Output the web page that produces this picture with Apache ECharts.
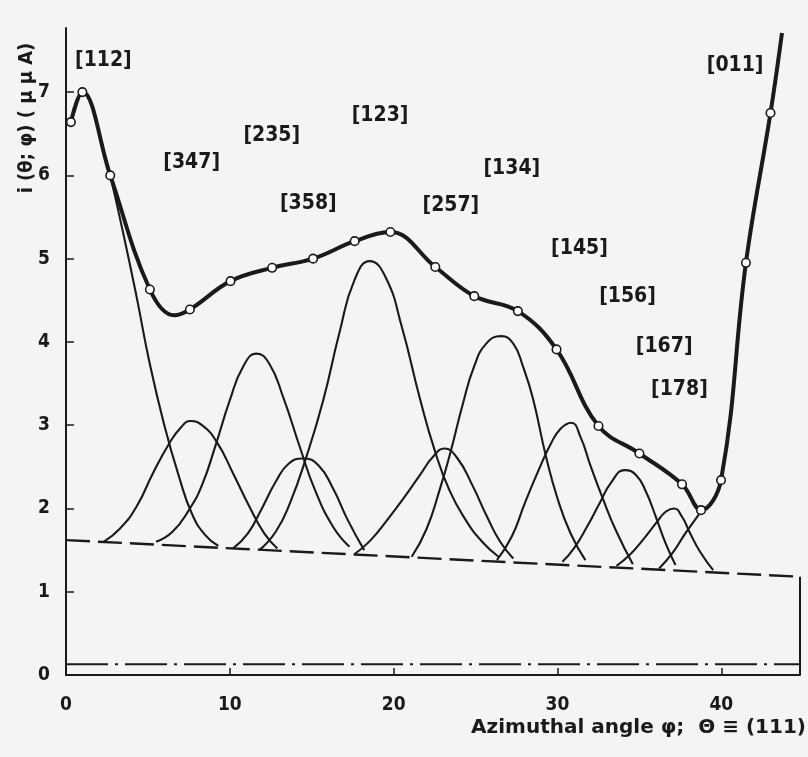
<!DOCTYPE html>
<html>
<head>
<meta charset="utf-8">
<script src="https://cdn.jsdelivr.net/npm/echarts@6/dist/echarts.min.js"></script>
<style>
html,body{margin:0;padding:0;background:#f4f4f2;}
#chart{width:808px;height:757px;}
</style>
</head>
<body>
<div id="chart"></div>
<script>
// ---- data ----
const xTickLabels = ['0', '10', '20', '30', '40'];
const yTickLabels = ['0', '1', '2', '3', '4', '5', '6', '7'];

// measured points (open circles)
const measured = [
  [0.3, 6.64], [1.0, 7.0], [2.7, 6.0], [5.12, 4.63], [7.56, 4.39], [10.04, 4.73],
  [12.58, 4.89], [15.08, 5.00], [17.62, 5.21], [19.8, 5.32], [22.54, 4.90],
  [24.92, 4.55], [27.58, 4.37], [29.94, 3.91], [32.5, 2.99], [35.0, 2.66],
  [37.6, 2.29], [38.76, 1.98], [39.98, 2.34], [41.5, 4.95], [43.0, 6.75]
];
// the thick envelope curve traced through the points
const envelope = [
  [0.3, 6.64], [1.0, 7.0], [2.7, 6.0], [5.12, 4.63], [6.6, 4.32], [7.56, 4.39], [10.04, 4.73],
  [12.58, 4.89], [15.08, 5.00], [17.62, 5.21], [19.8, 5.32], [22.54, 4.90],
  [24.92, 4.55], [27.58, 4.37], [29.94, 3.91], [32.5, 2.99], [35.0, 2.66],
  [37.6, 2.29], [38.76, 1.98], [39.98, 2.34], [41.5, 4.95], [43.0, 6.75], [43.7, 7.71]
];
// component peaks (thin curves)
const c112 = [[2.7, 6.0], [3.5, 5.3], [4.3, 4.55], [5.1, 3.75], [6.0, 3.0], [6.9, 2.38], [7.7, 1.93], [8.5, 1.68], [9.3, 1.55]];
const c347 = [[2.3, 1.60], [3.3, 1.76], [4.3, 2.02], [5.3, 2.42], [6.3, 2.78], [7.0, 2.97], [7.6, 3.05], [8.3, 3.0], [9.2, 2.80], [10.2, 2.42], [11.2, 2.02], [12.1, 1.70], [12.9, 1.52]];
const c235 = [[5.5, 1.60], [6.5, 1.72], [7.5, 1.98], [8.3, 2.28], [9.1, 2.74], [10.0, 3.30], [10.8, 3.70], [11.63, 3.86], [12.4, 3.74], [13.25, 3.34], [14.3, 2.72], [15.2, 2.22], [16.3, 1.78], [17.3, 1.54]];
const c358 = [[10.2, 1.52], [11.1, 1.70], [11.9, 1.98], [12.8, 2.32], [13.6, 2.54], [14.47, 2.60], [15.4, 2.52], [16.3, 2.24], [17.2, 1.86], [18.2, 1.50]];
const c123 = [[11.8, 1.50], [12.8, 1.72], [13.7, 2.08], [14.67, 2.62], [15.7, 3.30], [16.7, 4.12], [17.6, 4.74], [18.54, 4.97], [19.5, 4.78], [20.5, 4.18], [21.6, 3.32], [22.5, 2.70], [23.4, 2.22], [24.4, 1.86], [25.4, 1.60], [26.4, 1.42]];
const c257 = [[17.6, 1.45], [18.6, 1.62], [19.6, 1.86], [20.6, 2.12], [21.6, 2.40], [22.4, 2.62], [23.1, 2.72], [23.9, 2.60], [24.8, 2.28], [25.7, 1.90], [26.5, 1.60], [27.3, 1.40]];
const c134 = [[21.1, 1.42], [22.0, 1.75], [22.8, 2.22], [23.5, 2.70], [24.2, 3.24], [24.9, 3.70], [25.65, 3.98], [26.56, 4.07], [27.3, 3.98], [27.9, 3.70], [28.5, 3.32], [29.3, 2.62], [30.0, 2.12], [30.8, 1.70], [31.7, 1.38]];
const c145 = [[26.3, 1.38], [27.2, 1.66], [28.0, 2.06], [28.8, 2.44], [29.6, 2.78], [30.2, 2.96], [30.84, 3.03], [31.4, 2.86], [32.0, 2.52], [32.76, 2.12], [33.6, 1.72], [34.6, 1.33]];
const c156 = [[30.3, 1.36], [31.0, 1.52], [31.8, 1.78], [32.56, 2.06], [33.3, 2.32], [34.1, 2.46], [34.8, 2.40], [35.4, 2.20], [36.0, 1.90], [36.6, 1.58], [37.2, 1.32]];
const c167 = [[33.6, 1.31], [34.4, 1.44], [35.2, 1.62], [36.0, 1.82], [36.6, 1.96], [37.1, 2.00], [37.6, 1.90], [38.1, 1.70], [38.7, 1.48], [39.5, 1.26]];
const c178 = [[36.2, 1.28], [37.0, 1.46], [37.8, 1.70], [38.6, 1.92], [39.0, 2.02]];
const baseline = [[0, 1.62], [44.8, 1.18]];
const zeroLine = [[0, 0.13], [44.8, 0.13]];
const rightEdge = [[44.8, 1.18], [44.8, 0]];

const peakLabels = ['[112]', '[347]', '[235]', '[123]', '[358]', '[257]', '[134]', '[145]', '[156]', '[167]', '[178]', '[011]'];
const peakLabelX = [2.28, 7.67, 12.56, 19.17, 14.79, 23.49, 27.21, 31.34, 34.27, 36.51, 37.44, 40.84];
const peakLabelY = [7.38, 6.16, 6.48, 6.72, 5.66, 5.64, 6.08, 5.12, 4.54, 3.94, 3.43, 7.32];

// ---- chart ----
const INK = '#1a1a1a';
const FONT = '"DejaVu Sans Condensed", "DejaVu Sans", sans-serif';
const chart = echarts.init(document.getElementById('chart'), null, {renderer: 'canvas'});

function thin(data) {
  return {type: 'line', data: data, smooth: 0.5, showSymbol: false, silent: true,
    lineStyle: {color: INK, width: 2.1}, z: 2};
}

const components = [c112, c347, c235, c358, c123, c257, c134, c145, c156, c167, c178];

const series = components.map(thin);
series.push({type: 'line', data: baseline, showSymbol: false, silent: true,
  lineStyle: {color: INK, width: 2.4, type: [24, 8]}, z: 2});
series.push({type: 'line', data: zeroLine, showSymbol: false, silent: true,
  lineStyle: {color: INK, width: 2, type: [42, 7, 3, 7]}, z: 2});
series.push({type: 'line', data: rightEdge, showSymbol: false, silent: true,
  lineStyle: {color: INK, width: 2}, z: 2});
series.push({type: 'line', data: envelope, smooth: 0.4, showSymbol: false, silent: true,
  lineStyle: {color: INK, width: 4}, z: 3});
series.push({type: 'scatter', data: measured, symbol: 'circle', symbolSize: 8.5, silent: true,
  itemStyle: {color: '#ffffff', opacity: 1, borderColor: INK, borderWidth: 1.6}, z: 4});
series.push({type: 'scatter', symbolSize: 0, silent: true, z: 5,
  itemStyle: {opacity: 1},
  data: peakLabels.map((t, i) => ({value: [peakLabelX[i], peakLabelY[i]], name: t})),
  label: {show: true, position: 'inside', formatter: p => p.name, color: INK, opacity: 1,
    fontFamily: FONT, fontSize: 21, fontWeight: 'bold'}});

chart.setOption({
  backgroundColor: '#f4f4f2',
  animation: false,
  grid: {left: 66, right: 8, top: 28, bottom: 82, containLabel: false},
  xAxis: {
    type: 'value', min: 0, max: 44.8, interval: 10,
    axisLine: {show: true, onZero: false, lineStyle: {color: INK, width: 2}},
    axisTick: {show: true, inside: true, length: 7, lineStyle: {color: INK, width: 1.5}},
    splitLine: {show: false},
    axisLabel: {showMaxLabel: false, margin: 21, color: INK, fontFamily: FONT, fontSize: 19, fontWeight: 'bold',
      formatter: v => xTickLabels[Math.round(v / 10)]}
  },
  yAxis: {
    type: 'value', min: 0, max: 7.77, interval: 1,
    axisLine: {show: true, onZero: false, lineStyle: {color: INK, width: 2}},
    axisTick: {show: true, inside: true, length: 8, lineStyle: {color: INK, width: 1.5}},
    splitLine: {show: false},
    axisLabel: {showMaxLabel: false, margin: 16, color: INK, fontFamily: FONT, fontSize: 19, fontWeight: 'bold',
      formatter: v => yTickLabels[Math.round(v)]}
  },
  graphic: [
    {type: 'text', x: 806, y: 728, style: {text: 'Azimuthal angle φ;  Θ ≡ (111)', fill: INK,
      font: 'bold 20px "DejaVu Sans", sans-serif', textAlign: 'right', textVerticalAlign: 'middle'}},
    {type: 'text', x: 27, y: 118, rotation: Math.PI / 2, style: {text: 'i (θ; φ) ( μ μ A)', fill: INK,
      font: 'bold 20px ' + FONT, textAlign: 'center', textVerticalAlign: 'middle'}}
  ],
  series: series
});
</script>
</body>
</html>
